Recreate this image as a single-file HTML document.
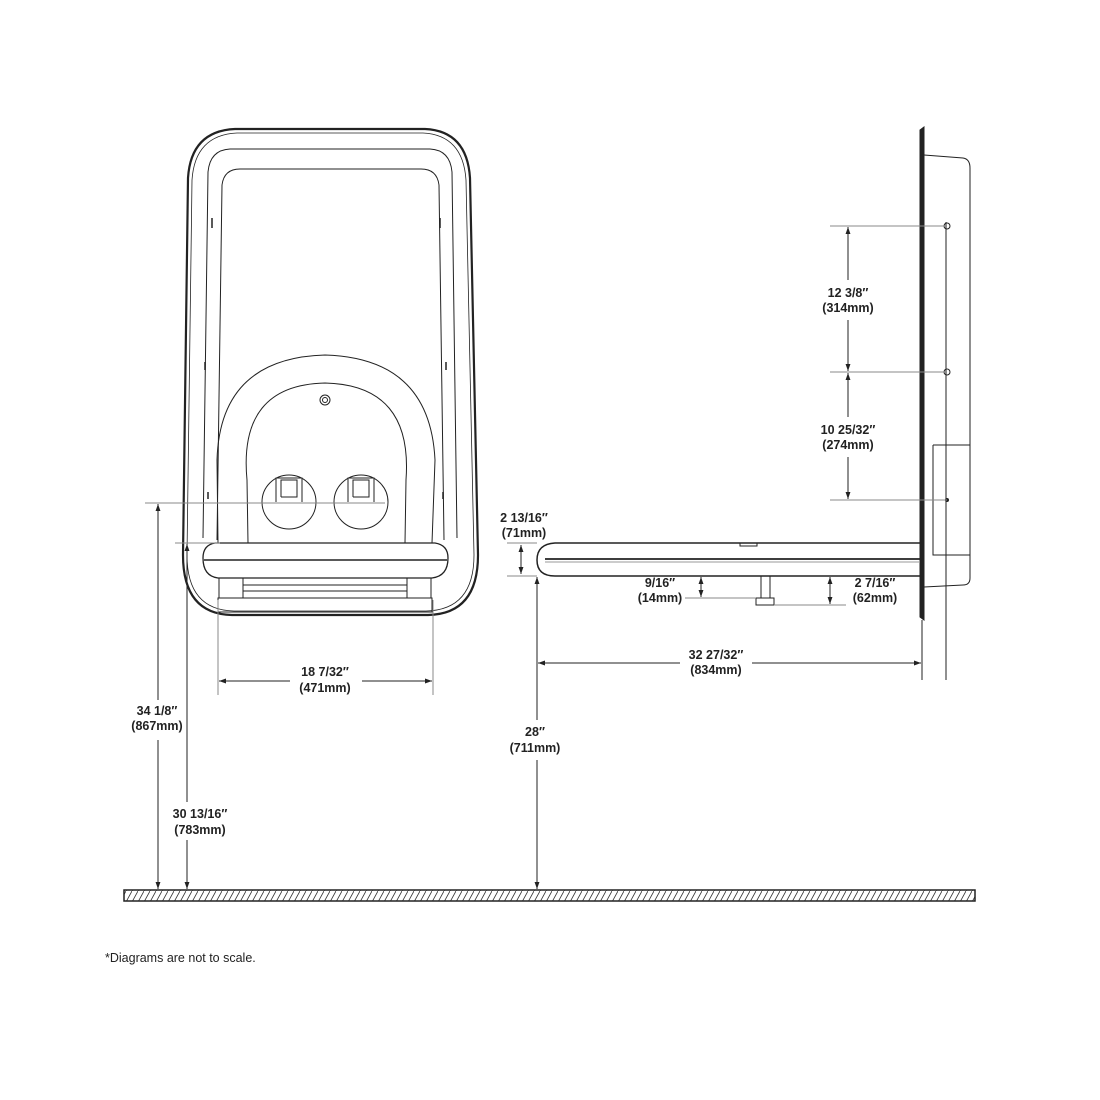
<!DOCTYPE html>
<html><head><meta charset="utf-8"><style>
html,body{margin:0;padding:0;background:#fff;}
svg{display:block}
text{font-family:"Liberation Sans",sans-serif;font-size:12.5px;font-weight:bold;fill:#222;text-anchor:middle}
</style></head><body>
<svg width="1100" height="1100" viewBox="0 0 1100 1100" xmlns="http://www.w3.org/2000/svg">
<defs>
<marker id="a" viewBox="0 0 10 10" refX="10" refY="5" markerWidth="7" markerHeight="7" orient="auto-start-reverse"><path d="M0,1.5 L10,5 L0,8.5 z" fill="#222"/></marker>
<pattern id="h" width="6" height="11" patternUnits="userSpaceOnUse"><line x1="0" y1="11" x2="6" y2="0" stroke="#333" stroke-width="0.8"/></pattern>
</defs>
<g fill="none" stroke="#222" stroke-width="1">
<!-- FRONT VIEW -->
<path d="M235,129 L425,129 Q467,131 470,178 L478,555 Q478,614 428,615 L232,615 Q183,614 183,555 L188,178 Q191,131 235,129 Z" stroke-width="2.2"/>
<path d="M237,133 L423,133 Q463,135 466,180 L474,555 Q474,610 426,611 L234,611 Q187,610 187,555 L192,180 Q195,135 237,133 Z" stroke-width="0.8"/>
<path d="M203,538 L208,172 Q210,150 230,149 L430,149 Q450,150 452,172 L457,538"/>
<path d="M217,540 L222,185 Q224,169 240,169 L421,169 Q437,169 439,185 L444,540"/>
<line x1="212" y1="218" x2="212" y2="228" stroke-width="1.5"/><line x1="440" y1="218" x2="440" y2="228" stroke-width="1.5"/>
<line x1="205" y1="362" x2="205" y2="370" stroke-width="1.5"/><line x1="446" y1="362" x2="446" y2="370" stroke-width="1.5"/>
<line x1="208" y1="492" x2="208" y2="499" stroke-width="1.5"/><line x1="443" y1="492" x2="443" y2="499" stroke-width="1.5"/>
<path d="M218,543 L217,460 Q220,358 325,355 Q430,358 435,460 L432,543"/>
<path d="M248,543 L247,480 Q238,385 325,383 Q413,385 406,480 L405,543"/>
<circle cx="325" cy="400" r="5"/><circle cx="325" cy="400" r="2.5"/>
<circle cx="289" cy="502" r="27"/><circle cx="361" cy="502" r="27"/>
<path d="M276,502 L276,478 L302,478 L302,502 M281,497 L281,480 L297,480 L297,497 L281,497"/>
<path d="M348,502 L348,478 L374,478 L374,502 M353,497 L353,480 L369,480 L369,497 L353,497"/>
<path d="M215,543 L435,543 Q448,545 448,558 Q448,576 432,578 L218,578 Q203,576 203,558 Q203,545 215,543 Z" stroke-width="1.3"/>
<line x1="204" y1="560" x2="447" y2="560" stroke-width="1.5"/>
<path d="M219,578 L219,598 L243,598 L243,578 M407,578 L407,598 L431,598 L431,578 M243,585 L407,585 M243,591 L407,591"/>
<path d="M218,598 L432,598 L432,612 L218,612 Z"/>
<!-- front dims -->
<line x1="145" y1="503" x2="385" y2="503" stroke="#888"/>
<line x1="175" y1="543" x2="220" y2="543" stroke="#888"/>
<line x1="158" y1="504" x2="158" y2="889" marker-start="url(#a)" marker-end="url(#a)"/>
<line x1="187" y1="544" x2="187" y2="889" marker-start="url(#a)" marker-end="url(#a)"/>
<line x1="218" y1="600" x2="218" y2="695" stroke="#888"/><line x1="433" y1="600" x2="433" y2="695" stroke="#888"/>
<line x1="219" y1="681" x2="290" y2="681" marker-start="url(#a)"/><line x1="362" y1="681" x2="432" y2="681" marker-end="url(#a)"/>
<!-- SIDE VIEW -->
<path d="M920,130 L924,127 L924,620 L920,617 Z" fill="#222"/>
<path d="M924,155 L963,158 Q970,159 970,168 L970,578 Q970,585 963,585 L924,587"/>
<path d="M933,445 L970,445 M933,445 L933,555 L970,555"/>
<line x1="946" y1="222" x2="946" y2="680"/>
<circle cx="947" cy="226" r="3"/><circle cx="947" cy="372" r="3"/><circle cx="947" cy="500" r="1.5" fill="#222"/>
<line x1="830" y1="226" x2="947" y2="226" stroke="#888"/><line x1="830" y1="372" x2="947" y2="372" stroke="#888"/><line x1="830" y1="500" x2="947" y2="500" stroke="#888"/>
<line x1="848" y1="227" x2="848" y2="280" marker-start="url(#a)"/><line x1="848" y1="320" x2="848" y2="371" marker-end="url(#a)"/>
<line x1="848" y1="373" x2="848" y2="417" marker-start="url(#a)"/><line x1="848" y1="457" x2="848" y2="499" marker-end="url(#a)"/>
<path d="M920,543 L555,543 Q537,544 537,560 Q537,576 555,576 L920,576" stroke-width="1.5"/>
<line x1="545" y1="559" x2="920" y2="559" stroke-width="1.8"/><line x1="545" y1="562" x2="920" y2="562" stroke="#999"/>
<path d="M740,543 L740,546 L757,546 L757,543"/>
<path d="M761,576 L761,598 M770,576 L770,598 M756,598 L774,598 L774,605 L756,605 Z"/>
<line x1="507" y1="543" x2="537" y2="543" stroke="#888"/><line x1="507" y1="576" x2="537" y2="576" stroke="#888"/>
<line x1="521" y1="545" x2="521" y2="574" marker-start="url(#a)" marker-end="url(#a)"/>
<line x1="685" y1="598" x2="756" y2="598" stroke="#888"/>
<line x1="701" y1="577" x2="701" y2="597" marker-start="url(#a)" marker-end="url(#a)"/>
<line x1="774" y1="605" x2="846" y2="605" stroke="#888"/>
<line x1="830" y1="577" x2="830" y2="604" marker-start="url(#a)" marker-end="url(#a)"/>
<line x1="538" y1="663" x2="680" y2="663" marker-start="url(#a)"/><line x1="752" y1="663" x2="921" y2="663" marker-end="url(#a)"/>
<line x1="922" y1="620" x2="922" y2="680"/>
<line x1="537" y1="577" x2="537" y2="720" marker-start="url(#a)"/><line x1="537" y1="760" x2="537" y2="889" marker-end="url(#a)"/>
<line x1="158" y1="700" x2="158" y2="740" stroke="#fff" stroke-width="4"/>
<line x1="187" y1="802" x2="187" y2="840" stroke="#fff" stroke-width="4"/>
<!-- floor -->
<rect x="124" y="890" width="851" height="11" fill="url(#h)" stroke-width="1.5"/>
</g>
<text x="325" y="676">18 7/32″</text><text x="325" y="692">(471mm)</text>
<text x="157" y="715">34 1/8″</text><text x="157" y="730">(867mm)</text>
<text x="200" y="818">30 13/16″</text><text x="200" y="834">(783mm)</text>
<text x="848" y="297">12 3/8″</text><text x="848" y="312">(314mm)</text>
<text x="848" y="434">10 25/32″</text><text x="848" y="449">(274mm)</text>
<text x="524" y="522">2 13/16″</text><text x="524" y="537">(71mm)</text>
<text x="660" y="587">9/16″</text><text x="660" y="602">(14mm)</text>
<text x="875" y="587">2 7/16″</text><text x="875" y="602">(62mm)</text>
<text x="716" y="659">32 27/32″</text><text x="716" y="674">(834mm)</text>
<text x="535" y="736">28″</text><text x="535" y="752">(711mm)</text>
<text x="105" y="962" style="text-anchor:start;font-weight:normal;font-size:12.5px">*Diagrams are not to scale.</text>
</svg>
</body></html>
